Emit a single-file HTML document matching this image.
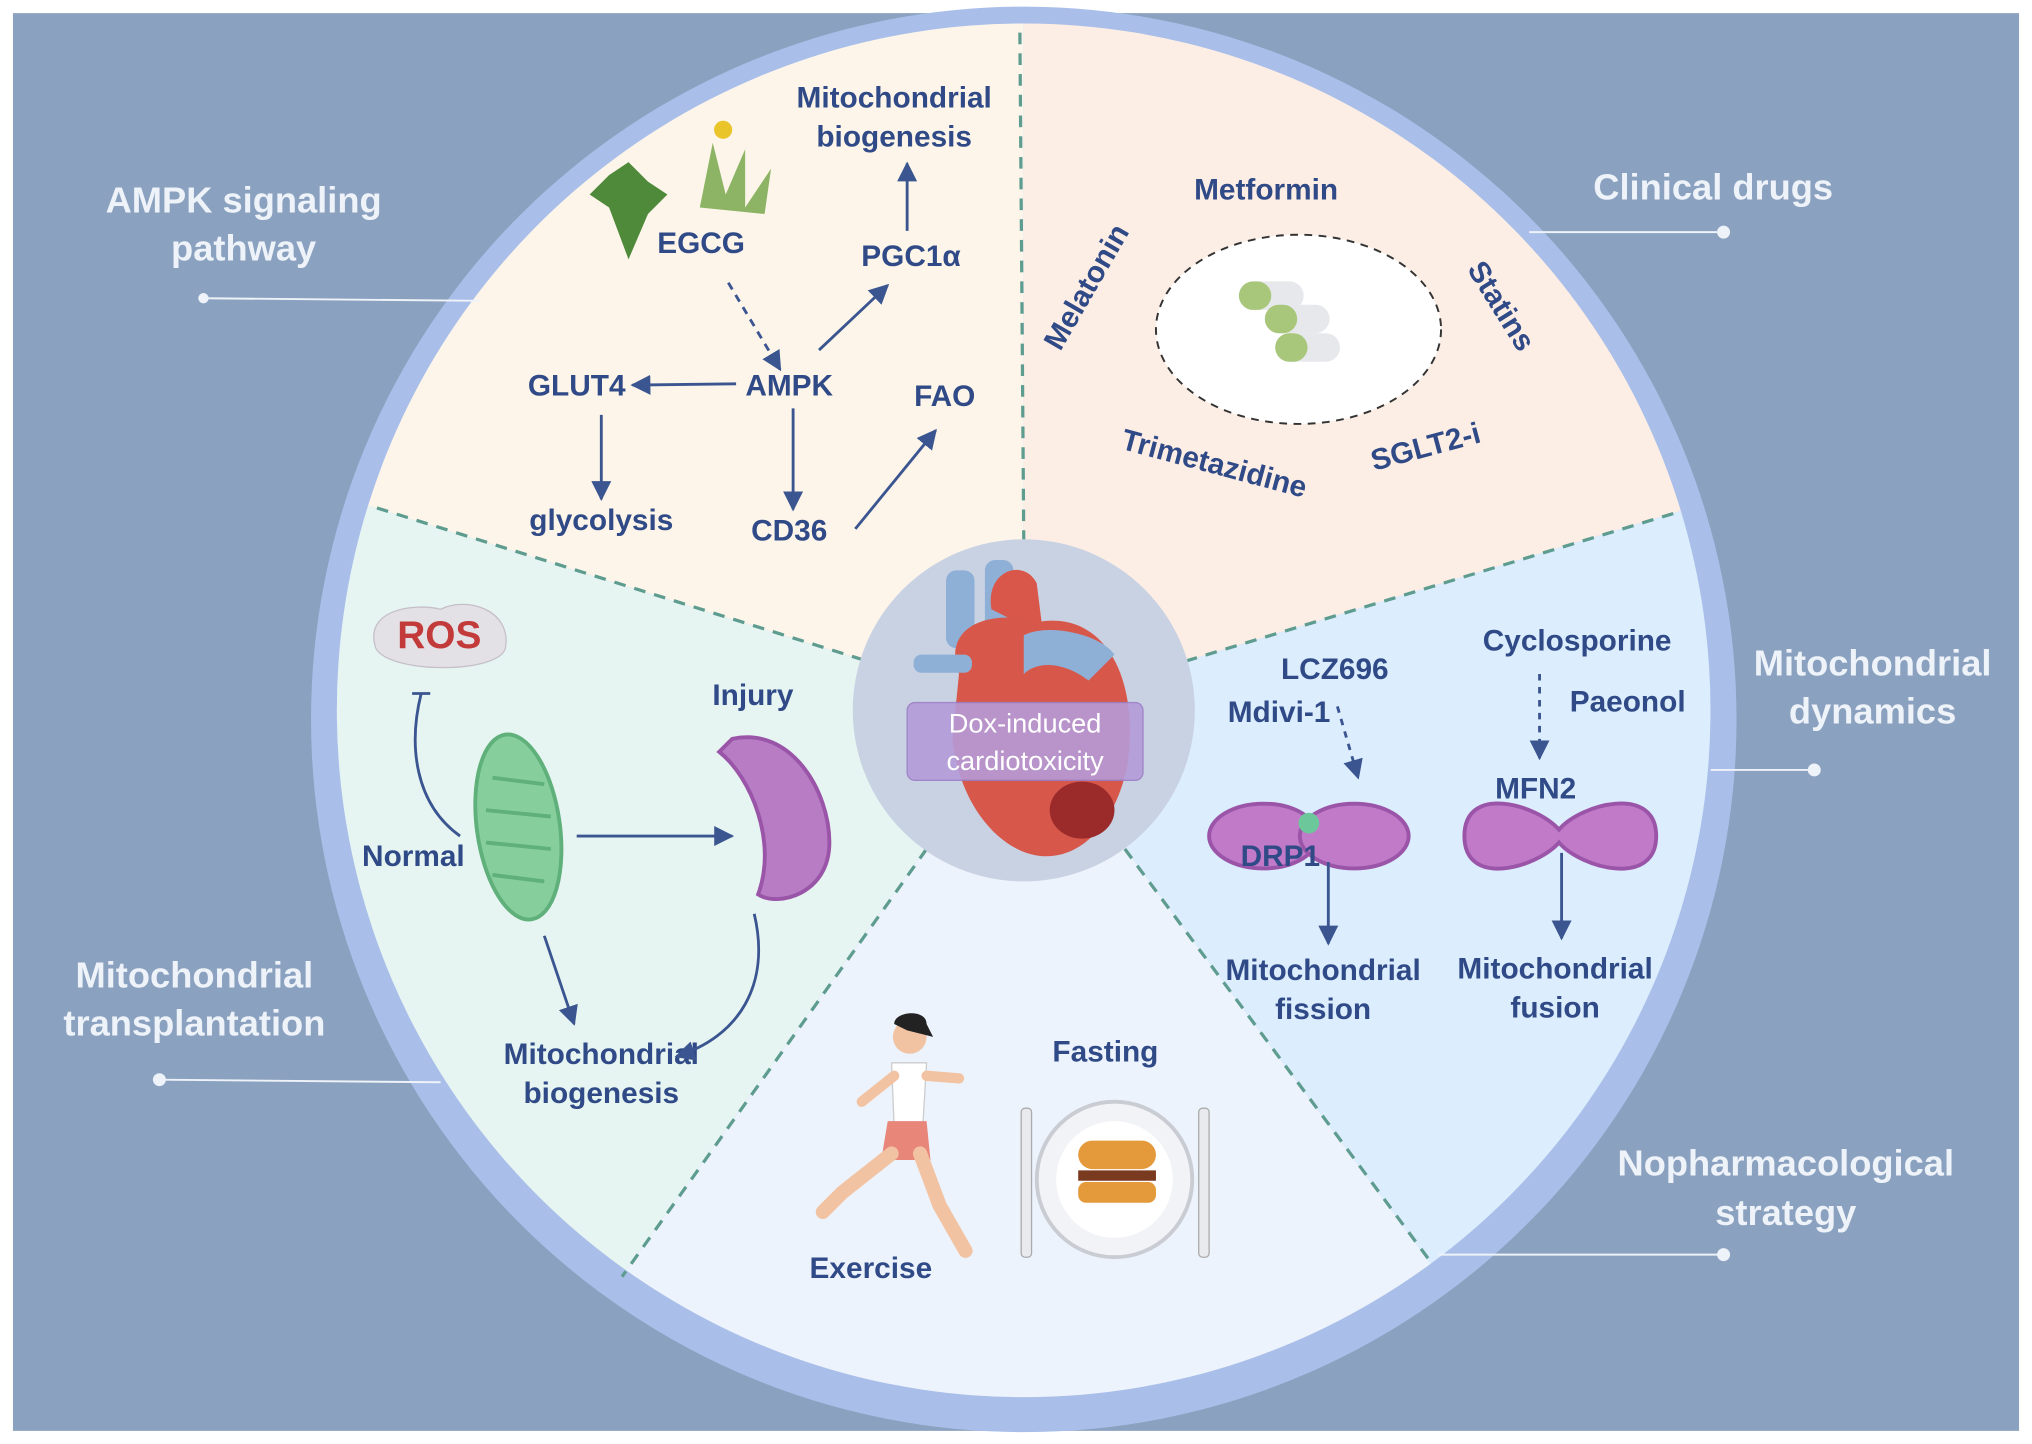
<!DOCTYPE html>
<html><head><meta charset="utf-8"><style>
html,body{margin:0;padding:0;background:#fff;}
svg{display:block;}
.lab{font-family:"Liberation Sans",sans-serif;font-weight:bold;font-size:28px;fill:#eef2f9;text-anchor:middle;}
.t{font-family:"Liberation Sans",sans-serif;font-weight:bold;font-size:23px;fill:#2f4a86;text-anchor:middle;}
</style></head><body>
<svg width="2032" height="1444" viewBox="0 0 1568 1114" xmlns="http://www.w3.org/2000/svg">
<defs>
<marker id="ar" viewBox="0 0 10 10" refX="9" refY="5" markerWidth="7" markerHeight="7" orient="auto-start-reverse"><path d="M0,0 L10,5 L0,10 z" fill="#3a5590"/></marker>
</defs>
<rect width="1568" height="1114" fill="#fff"/>
<rect x="10" y="10" width="1548" height="1094" fill="#8aa1bf"/>
<circle cx="790" cy="555" r="550" fill="#a9bfe9"/>
<path d="M790,548 L790,18 A530,530 0 0 1 1297,394 Z" fill="#fdeee5"/>
<path d="M790,548 L1297,394 A530,530 0 0 1 1104,975 Z" fill="#dcedfd"/>
<path d="M790,548 L1104,975 A530,530 0 0 1 483,980 Z" fill="#edf3fc"/>
<path d="M790,548 L483,980 A530,530 0 0 1 284,390 Z" fill="#e7f5f2"/>
<path d="M790,548 L284,390 A530,530 0 0 1 790,18 Z" fill="#fdf5ea"/>
<g stroke="#5e9c90" stroke-width="2.5" stroke-dasharray="9,7">
<line x1="790" y1="418" x2="787" y2="25"/>
<line x1="915" y1="510" x2="1295" y2="395"/>
<line x1="868" y1="655" x2="1105" y2="975"/>
<line x1="715" y1="655" x2="480" y2="985"/>
<line x1="666" y1="509" x2="285" y2="390"/>
</g>
<circle cx="790" cy="548" r="132" fill="#c9d2e3"/>
<g>
<rect x="730" y="440" width="22" height="60" rx="8" fill="#8fb0d6"/>
<rect x="760" y="432" width="22" height="70" rx="8" fill="#8fb0d6"/>
<path d="M765,470 C760,440 790,430 800,450 L805,490 Z" fill="#d9574a"/>
<path d="M740,520 C725,480 770,470 800,480 C850,470 880,520 870,590 C860,640 830,665 800,660 C770,655 740,620 735,570 Z" fill="#d7584b"/>
<path d="M790,490 C810,480 850,490 860,505 L840,525 C820,510 800,510 790,520 Z" fill="#8fb0d6"/>
<ellipse cx="835" cy="625" rx="25" ry="22" fill="#9b2a2a"/>
<rect x="705" y="505" width="45" height="14" rx="6" fill="#8fb0d6"/>
</g>
<rect x="700" y="542" width="182" height="60" rx="6" fill="#b59bd8" opacity="0.9" stroke="#9a7ec4"/>
<text x="791" y="565" font-family="Liberation Sans,sans-serif" font-size="21" fill="#fff" text-anchor="middle">Dox-induced</text>
<text x="791" y="594" font-family="Liberation Sans,sans-serif" font-size="21" fill="#fff" text-anchor="middle">cardiotoxicity</text>

<text class="lab" x="188" y="164">AMPK signaling</text>
<text class="lab" x="188" y="201">pathway</text>
<text class="lab" x="1322" y="154">Clinical drugs</text>
<text class="lab" x="1445" y="521">Mitochondrial</text>
<text class="lab" x="1445" y="558">dynamics</text>
<text class="lab" x="150" y="762">Mitochondrial</text>
<text class="lab" x="150" y="799">transplantation</text>
<text class="lab" x="1378" y="907">Nopharmacological</text>
<text class="lab" x="1378" y="945">strategy</text>
<g stroke="#eef2f9" stroke-width="1.5">
<line x1="157" y1="230" x2="370" y2="232"/><line x1="1180" y1="179" x2="1330" y2="179"/>
<line x1="1320" y1="594" x2="1400" y2="594"/><line x1="123" y1="833" x2="340" y2="835"/>
<line x1="1110" y1="968" x2="1330" y2="968"/></g>
<g fill="#eef2f9"><circle cx="157" cy="230" r="4"/><circle cx="1330" cy="179" r="5"/><circle cx="1400" cy="594" r="5"/><circle cx="123" cy="833" r="5"/><circle cx="1330" cy="968" r="5"/></g>

<path d="M485,200 L470,160 L455,150 L470,135 L485,125 L500,140 L515,150 L500,165 Z" fill="#4f8a3a"/>
<path d="M540,160 L550,110 L560,150 L575,115 L575,160 L595,130 L590,165 Z" fill="#8cb464"/>
<circle cx="558" cy="100" r="7" fill="#e9c52a"/>
<text class="t" x="690" y="83">Mitochondrial</text><text class="t" x="690" y="113">biogenesis</text>
<text class="t" x="703" y="205">PGC1α</text><text class="t" x="541" y="195">EGCG</text>
<text class="t" x="609" y="305">AMPK</text><text class="t" x="445" y="305">GLUT4</text>
<text class="t" x="729" y="313">FAO</text><text class="t" x="464" y="409">glycolysis</text>
<text class="t" x="609" y="417">CD36</text>
<g stroke="#3a5590" stroke-width="2.2" fill="none" marker-end="url(#ar)">
<line x1="700" y1="178" x2="700" y2="126"/>
<line x1="562" y1="218" x2="602" y2="285" stroke-dasharray="6,5"/>
<line x1="632" y1="270" x2="685" y2="220"/>
<line x1="568" y1="296" x2="488" y2="297"/>
<line x1="464" y1="320" x2="464" y2="385"/>
<line x1="612" y1="315" x2="612" y2="393"/>
<line x1="660" y1="408" x2="722" y2="332"/>
</g>

<ellipse cx="1002" cy="254" rx="110" ry="73" fill="#fff" stroke="#333" stroke-width="1.5" stroke-dasharray="6,5"/>
<g><rect x="956" y="217" width="50" height="22" rx="11" fill="#e6e8ec"/><rect x="956" y="217" width="25" height="22" rx="11" fill="#a8c77a"/>
<rect x="976" y="235" width="50" height="22" rx="11" fill="#e6e8ec"/><rect x="976" y="235" width="25" height="22" rx="11" fill="#a8c77a"/>
<rect x="984" y="257" width="50" height="22" rx="11" fill="#e6e8ec"/><rect x="984" y="257" width="25" height="22" rx="11" fill="#a8c77a"/></g>
<text class="t" x="977" y="154">Metformin</text>
<text class="t" transform="translate(845,225) rotate(-60)">Melatonin</text>
<text class="t" transform="translate(1152,240) rotate(58)">Statins</text>
<text class="t" transform="translate(935,365) rotate(15)">Trimetazidine</text>
<text class="t" transform="translate(1102,352) rotate(-15)">SGLT2-i</text>

<text class="t" x="1217" y="502">Cyclosporine</text><text class="t" x="1256" y="549">Paeonol</text>
<text class="t" x="1030" y="524">LCZ696</text><text class="t" x="987" y="557">Mdivi-1</text>
<ellipse cx="975" cy="645" rx="42" ry="25" fill="#c07ac8" stroke="#9a55a8" stroke-width="3"/>
<ellipse cx="1045" cy="645" rx="42" ry="25" fill="#c07ac8" stroke="#9a55a8" stroke-width="3"/>
<circle cx="1010" cy="635" r="8" fill="#6cc89a"/>
<path d="M1130,645 C1130,605 1185,620 1203,640 C1220,620 1278,605 1278,645 C1278,685 1220,670 1203,650 C1185,670 1130,685 1130,645 Z" fill="#c07ac8" stroke="#9a55a8" stroke-width="3"/>
<text class="t" x="1185" y="616">MFN2</text><text class="t" x="988" y="668">DRP1</text>
<text class="t" x="1021" y="756">Mitochondrial</text><text class="t" x="1021" y="786">fission</text>
<text class="t" x="1200" y="755">Mitochondrial</text><text class="t" x="1200" y="785">fusion</text>
<g stroke="#3a5590" stroke-width="2.2" fill="none" marker-end="url(#ar)">
<line x1="1032" y1="545" x2="1048" y2="600" stroke-dasharray="5,5"/>
<line x1="1188" y1="520" x2="1188" y2="585" stroke-dasharray="5,5"/>
<line x1="1025" y1="665" x2="1025" y2="728"/>
<line x1="1205" y1="658" x2="1205" y2="724"/>
</g>

<text class="t" x="853" y="819">Fasting</text><text class="t" x="672" y="986">Exercise</text>
<circle cx="860" cy="910" r="60" fill="#f2f3f6" stroke="#c9ccd3" stroke-width="3"/>
<circle cx="860" cy="910" r="45" fill="#fff"/>
<rect x="832" y="880" width="60" height="22" rx="11" fill="#e49a3a"/>
<rect x="832" y="903" width="60" height="8" fill="#7a3a20"/>
<rect x="832" y="912" width="60" height="16" rx="6" fill="#e49a3a"/>
<rect x="788" y="855" width="8" height="115" rx="3" fill="#e8eaee" stroke="#aaa"/>
<rect x="925" y="855" width="8" height="115" rx="3" fill="#e8eaee" stroke="#aaa"/>
<circle cx="702" cy="800" r="13" fill="#f2c3a2"/><path d="M690,790 C690,780 715,778 715,790 L720,800 L700,795 Z" fill="#222"/>
<path d="M688,820 L715,820 L712,870 L690,870 Z" fill="#fff" stroke="#ccc"/>
<path d="M685,865 L715,865 L718,895 L680,895 Z" fill="#e8867a"/>
<path d="M688,890 L650,920 L635,935 M710,890 L725,930 L745,965" stroke="#f2c3a2" stroke-width="11" fill="none" stroke-linecap="round"/>
<path d="M715,830 L740,832 M690,830 L665,850" stroke="#f2c3a2" stroke-width="8" fill="none" stroke-linecap="round"/>

<path d="M290,500 C280,470 320,465 340,470 C360,460 395,470 390,500 C385,520 300,520 290,500 Z" fill="#e4e1e6" stroke="#c5bfc8"/>
<text x="339" y="500" font-family="Liberation Sans,sans-serif" font-weight="bold" font-size="30" fill="#c23a3a" text-anchor="middle">ROS</text>
<text class="t" x="581" y="544">Injury</text><text class="t" x="319" y="668">Normal</text>
<text class="t" x="464" y="821">Mitochondrial</text><text class="t" x="464" y="851">biogenesis</text>
<ellipse cx="400" cy="638" rx="32" ry="72" fill="#86cf9c" stroke="#5fb07a" stroke-width="3" transform="rotate(-8 400 638)"/>
<path d="M380,600 L420,605 M375,625 L425,630 M375,650 L425,655 M380,675 L420,680" stroke="#5fb07a" stroke-width="3"/>
<path d="M565,570 C610,560 640,610 640,650 C640,690 600,700 585,690 C600,650 580,600 555,580 Z" fill="#b77cc4" stroke="#9a55a8" stroke-width="3"/>
<g stroke="#3a5590" stroke-width="2.2" fill="none">
<line x1="445" y1="645" x2="565" y2="645" marker-end="url(#ar)"/>
<line x1="420" y1="722" x2="443" y2="790" marker-end="url(#ar)"/>
<path d="M355,645 C320,620 315,575 325,535"/>
<line x1="318" y1="535" x2="332" y2="535"/>
<path d="M582,705 C595,760 570,800 522,815" marker-end="url(#ar)"/>
</g>
</svg>
</body></html>
